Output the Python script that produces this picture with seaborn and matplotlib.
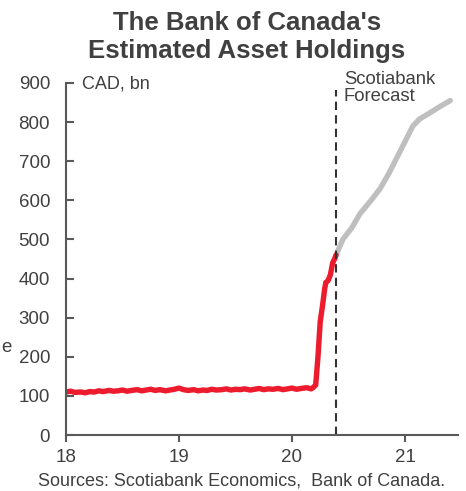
import matplotlib.pyplot as plt
import seaborn as sns
import pandas as pd

# Bank of Canada balance sheet, CAD bn (x = year, 18 = 2018)
hist_x = [18.00, 18.04, 18.08, 18.13, 18.17, 18.21, 18.25, 18.29, 18.33, 18.38,
          18.42, 18.46, 18.50, 18.54, 18.58, 18.63, 18.67, 18.71, 18.75, 18.79,
          18.83, 18.88, 18.92, 18.96, 19.00, 19.04, 19.08, 19.13, 19.17, 19.21,
          19.25, 19.29, 19.33, 19.38, 19.42, 19.46, 19.50, 19.54, 19.58, 19.63,
          19.67, 19.71, 19.75, 19.79, 19.83, 19.88, 19.92, 19.96, 20.00, 20.04,
          20.08, 20.13, 20.17, 20.19, 20.21, 20.23, 20.25, 20.27, 20.29, 20.30,
          20.32, 20.34, 20.36, 20.38, 20.39]
hist_y = [110, 112, 109, 110, 108, 111, 110, 113, 111, 114,
          112, 113, 115, 112, 114, 116, 113, 115, 117, 114,
          116, 113, 115, 117, 120, 116, 114, 116, 113, 115,
          114, 117, 115, 116, 118, 115, 117, 116, 118, 115,
          117, 119, 116, 118, 117, 119, 116, 118, 120, 117,
          119, 121, 118, 122, 128, 200, 290, 330, 375, 390,
          395, 410, 440, 452, 460]

fcst_x = [20.39, 20.45, 20.53, 20.60, 20.70, 20.78, 20.86, 20.93, 21.00, 21.07,
          21.13, 21.20, 21.30, 21.40]
fcst_y = [460, 500, 530, 565, 600, 630, 670, 710, 750, 790,
          808, 820, 838, 855]

forecast_start = 20.39
x_ticks = [18, 19, 20, 21]
y_ticks = [0, 100, 200, 300, 400, 500, 600, 700, 800, 900]

hist = pd.DataFrame({'year': hist_x, 'cad_bn': hist_y})
fcst = pd.DataFrame({'year': fcst_x, 'cad_bn': fcst_y})

sns.set_style('ticks')
plt.rcParams['font.family'] = ['Liberation Sans', 'DejaVu Sans']

fig = plt.figure(figsize=(4.66, 4.91), dpi=100)
ax = fig.add_axes([0.1416, 0.114, 0.8414, 0.717])

grey_txt = '#404040'

sns.lineplot(data=fcst, x='year', y='cad_bn', ax=ax, color='#BFBFBF', lw=3.9,
             solid_capstyle='round')
sns.lineplot(data=hist, x='year', y='cad_bn', ax=ax, color='#EC1C2E', lw=3.9,
             solid_capstyle='round')
ax.axvline(forecast_start, color='#333333', lw=1.5, ls=(0, (4, 2.5)), ymax=0.98)

ax.set_xlim(18, 21.47)
ax.set_ylim(0, 900)
ax.set_xticks(x_ticks)
ax.set_xticklabels([str(t) for t in x_ticks])
ax.set_yticks(y_ticks)
ax.set_xlabel('')
ax.set_ylabel('')

sns.despine(ax=ax)
for s in ['left', 'bottom']:
    ax.spines[s].set_color('#595959')
    ax.spines[s].set_linewidth(1.5)

ax.tick_params(axis='y', direction='in', length=6, width=1.5, color='#595959',
               labelsize=13.5, labelcolor=grey_txt, pad=11.5)
ax.tick_params(axis='x', direction='out', length=5, width=1.5, color='#595959',
               labelsize=13.5, labelcolor=grey_txt, pad=5)

ax.text(18.14, 918, 'CAD, bn', fontsize=13, color=grey_txt, va='top', ha='left',
        clip_on=False)
ax.text(20.46, 930, 'Scotiabank\nForecast', fontsize=13.3, color=grey_txt,
        va='top', ha='left', linespacing=0.98, clip_on=False)

fig.text(0.53, 0.977, "The Bank of Canada's\nEstimated Asset Holdings",
         fontsize=18.5, fontweight='bold', color='#404040', ha='center', va='top',
         linespacing=1.17)
fig.text(0.519, 0.004, 'Sources: Scotiabank Economics,  Bank of Canada.',
         fontsize=13, color=grey_txt, ha='center', va='bottom')
fig.text(0.026, 0.293, 'e', fontsize=13.5, color=grey_txt, ha='right', va='center')

fig.savefig('out.png', dpi=100)
